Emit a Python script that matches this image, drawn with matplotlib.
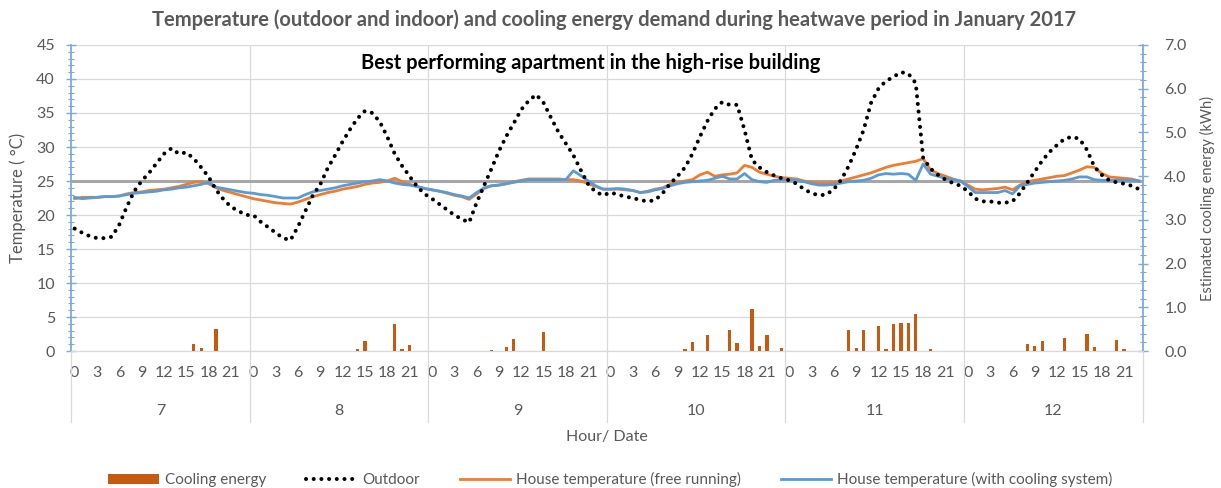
import numpy as np
import matplotlib.pyplot as plt
from matplotlib.ticker import MultipleLocator, FormatStrFormatter

plt.rcParams['font.family'] = ['Lato', 'DejaVu Sans']

# ---- data (hourly, 7-12 January 2017) ----
days = [7, 8, 9, 10, 11, 12]
hour_labels = [0, 3, 6, 9, 12, 15, 18, 21]

outdoor = [
    18.0, 17.4, 16.9, 16.6, 16.6, 16.8, 18.6, 21.2, 23.5, 25.0, 26.2, 27.6,
    29.0, 29.8, 29.0, 29.2, 28.3, 27.0, 25.6, 23.7, 22.3, 21.2, 20.6, 20.0,
    20.0, 19.0, 18.2, 17.4, 16.6, 16.3, 18.3, 20.6, 22.9, 24.5, 26.9, 28.8,
    30.8, 32.6, 34.2, 35.3, 35.0, 33.7, 31.5, 29.0, 27.2, 25.7, 24.2, 23.1,
    22.4, 21.6, 20.8, 20.0, 19.4, 18.9, 21.8, 24.3, 26.8, 29.4, 31.6, 33.5,
    35.5, 36.8, 37.7, 36.5, 34.3, 32.2, 30.5, 28.8, 26.6, 24.5, 23.4, 22.9,
    23.3, 23.0, 22.7, 22.5, 22.2, 22.0, 22.2, 23.2, 24.6, 25.7, 27.0, 29.0,
    31.5, 33.8, 35.6, 36.6, 36.2, 36.2, 32.5, 28.1, 27.0, 26.3, 25.8, 25.4,
    25.1, 24.6, 23.8, 23.2, 22.9, 23.0, 23.8, 25.2, 27.2, 29.7, 32.5, 36.5,
    38.6, 39.7, 40.3, 41.0, 40.8, 39.4, 28.4, 26.8, 25.9, 25.2, 24.7, 24.3,
    23.5, 22.4, 22.0, 22.0, 21.8, 21.8, 22.0, 23.2, 24.8, 26.4, 28.0, 29.3,
    30.3, 31.2, 31.5, 31.2, 29.6, 27.1, 25.9, 25.1, 24.8, 24.6, 24.3, 23.8,
]

free_running = [
    22.4, 22.6, 22.6, 22.6, 22.7, 22.7, 22.8, 23.1, 23.3, 23.4, 23.6, 23.7,
    23.8, 24.0, 24.2, 24.5, 24.8, 24.9, 24.6, 24.0, 23.6, 23.3, 23.0, 22.7,
    22.4, 22.2, 22.0, 21.8, 21.7, 21.6, 21.9, 22.3, 22.7, 23.0, 23.3, 23.5,
    23.8, 24.0, 24.2, 24.5, 24.7, 24.8, 25.0, 25.4, 24.9, 24.5, 24.2, 23.9,
    23.7, 23.5, 23.2, 22.9, 22.7, 22.3, 23.1, 23.9, 24.3, 24.4, 24.6, 24.9,
    25.1, 25.3, 25.3, 25.3, 25.3, 25.3, 25.2, 25.2, 25.0, 24.6, 24.2, 23.8,
    23.8, 23.8, 23.7, 23.6, 23.3, 23.5, 23.8, 24.0, 24.5, 24.8, 25.0, 25.2,
    25.9, 26.3, 25.7, 25.9, 26.0, 26.2, 27.3, 27.0, 26.3, 26.0, 25.7, 25.5,
    25.4, 25.3, 25.0, 24.8, 24.7, 24.7, 24.8, 25.0, 25.3, 25.6, 25.9, 26.2,
    26.6, 27.0, 27.3, 27.5, 27.7, 27.9, 28.3, 26.6, 26.1, 25.7, 25.3, 25.0,
    24.4, 23.8, 23.7, 23.8, 23.9, 24.1, 23.7, 24.4, 24.9, 25.1, 25.3, 25.5,
    25.7, 25.8, 26.2, 26.6, 27.1, 27.0, 26.1, 25.6, 25.5, 25.4, 25.3, 25.0,
]

with_cooling = [
    22.6, 22.4, 22.5, 22.6, 22.7, 22.7, 22.8, 23.0, 23.2, 23.3, 23.4, 23.5,
    23.7, 23.8, 24.0, 24.1, 24.3, 24.5, 24.8, 24.1, 23.9, 23.7, 23.5, 23.3,
    23.2, 23.0, 22.9, 22.7, 22.5, 22.5, 22.5, 23.0, 23.4, 23.6, 23.8, 24.0,
    24.3, 24.5, 24.7, 24.9, 25.0, 25.2, 25.0, 24.7, 24.5, 24.4, 24.2, 23.9,
    23.7, 23.5, 23.3, 23.0, 22.8, 22.5, 23.3, 24.0, 24.3, 24.4, 24.6, 24.8,
    25.0, 25.2, 25.2, 25.2, 25.2, 25.2, 25.2, 26.5, 25.8, 25.0, 24.3, 23.8,
    23.8, 23.9, 23.8, 23.6, 23.3, 23.4, 23.7, 23.9, 24.3, 24.6, 24.8, 24.9,
    25.0, 25.1, 25.4, 25.7, 25.3, 25.3, 26.1, 25.2, 24.9, 24.8, 25.1, 25.2,
    25.2, 25.1, 24.9, 24.6, 24.4, 24.4, 24.5, 24.7, 24.9, 25.0, 25.1, 25.4,
    25.9, 26.1, 26.0, 26.1, 26.0, 25.1, 27.5, 26.0, 25.7, 25.4, 25.2, 25.0,
    24.2, 23.3, 23.3, 23.3, 23.3, 23.6, 23.1, 24.3, 24.5, 24.7, 24.8, 24.9,
    25.0, 25.1, 25.3, 25.6, 25.6, 25.2, 25.1, 25.1, 25.1, 25.1, 25.1, 25.0,
]

# cooling energy (kWh) - only the hours with demand
cool_day = [7, 7, 7, 8, 8, 8, 8, 8, 9, 9, 9, 9,
            10, 10, 10, 10, 10, 10, 10, 10, 10,
            11, 11, 11, 11, 11, 11, 11, 11, 11, 11,
            12, 12, 12, 12, 12, 12, 12, 12]
cool_hour = [16, 17, 19, 14, 15, 19, 20, 21, 8, 10, 11, 15,
             10, 11, 13, 16, 17, 19, 20, 21, 23,
             8, 9, 10, 12, 13, 14, 15, 16, 17, 19,
             8, 9, 10, 13, 16, 17, 20, 21]
cool_kwh = [0.15, 0.06, 0.51, 0.04, 0.23, 0.62, 0.05, 0.14, 0.02, 0.10, 0.27, 0.43,
            0.04, 0.21, 0.36, 0.48, 0.18, 0.95, 0.11, 0.37, 0.08,
            0.48, 0.08, 0.48, 0.57, 0.04, 0.62, 0.65, 0.65, 0.85, 0.04,
            0.17, 0.12, 0.24, 0.30, 0.39, 0.10, 0.25, 0.04]

comfort_limit = 25

# ---- plot ----
n = len(outdoor)
x = np.arange(n)
cool_x = [(d - days[0]) * 24 + h for d, h in zip(cool_day, cool_hour)]

text_col = '#595959'
grid_col = '#D9D9D9'
axis_blue = '#7FA9DC'

fig = plt.figure(figsize=(12.21, 4.88), dpi=100)
ax = fig.add_axes([0.0581, 0.2807, 0.8778, 0.6271])
ax2 = ax.twinx()

ax.axhline(comfort_limit, color='#A6A6A6', lw=2.2, zorder=2)
ax.plot(x, free_running, color='#ED7D31', lw=2.0, zorder=3,
        label='House temperature (free running)')
ax.plot(x, with_cooling, color='#5B9BD5', lw=2.0, zorder=4,
        label='House temperature (with cooling system)')
ax.plot(x, outdoor, color='black', lw=2.9, linestyle=(0, (0.01, 1.9)),
        dash_capstyle='round', zorder=5, label='Outdoor')

ax2.bar(cool_x, cool_kwh, width=0.45, color='#C55A11', zorder=3,
        label='Cooling energy')

ax.set_xlim(-0.5, n - 0.5)
ax.set_ylim(0, 45)
ax2.set_ylim(0, 7)

ax.yaxis.set_major_locator(MultipleLocator(5))
ax.yaxis.set_minor_locator(MultipleLocator(1))
ax2.yaxis.set_major_locator(MultipleLocator(1))
ax2.yaxis.set_minor_locator(MultipleLocator(0.2))
ax2.yaxis.set_major_formatter(FormatStrFormatter('%.1f'))

ax.grid(axis='y', color=grid_col, lw=0.9, zorder=0)
for b in range(1, len(days)):
    ax.axvline(b * 24 - 0.5, color=grid_col, lw=0.9, zorder=0)

for a in (ax, ax2):
    a.spines['top'].set_visible(False)
    a.spines['bottom'].set_color(grid_col)
ax.spines['right'].set_visible(False)
ax2.spines['left'].set_visible(False)
ax.spines['left'].set_color(axis_blue)
ax2.spines['right'].set_color(axis_blue)
ax.spines['left'].set_linewidth(1.3)
ax2.spines['right'].set_linewidth(1.3)

ax.tick_params(axis='y', which='major', direction='inout', length=7, width=1,
               color=axis_blue, labelsize=11.5, labelcolor=text_col, pad=8)
ax.tick_params(axis='y', which='minor', direction='inout', length=4, width=0.8,
               color=axis_blue)
ax2.tick_params(axis='y', which='major', direction='inout', length=7, width=1,
                color=axis_blue, labelsize=11.5, labelcolor=text_col, pad=12)
ax2.tick_params(axis='y', which='minor', direction='inout', length=4, width=0.8,
                color=axis_blue)

# two level category axis: hours then dates
tick_pos = [(d - days[0]) * 24 + h for d in days for h in hour_labels]
tick_lab = [str(h) for d in days for h in hour_labels]
ax.set_xticks(tick_pos)
ax.set_xticklabels(tick_lab)
ax.tick_params(axis='x', length=0, labelsize=11.5, labelcolor=text_col, pad=11)

for i, d in enumerate(days):
    ax.text(i * 24 + 11.5, -0.196, str(d), transform=ax.get_xaxis_transform(),
            ha='center', va='center', fontsize=11.5, color=text_col)
for b in range(len(days) + 1):
    ax.plot([b * 24 - 0.5, b * 24 - 0.5], [0, -0.232], color=grid_col, lw=0.9,
            transform=ax.get_xaxis_transform(), clip_on=False)

ax.text(0.5, -0.281, 'Hour/ Date', transform=ax.transAxes, ha='center',
        va='center', fontsize=11.5, color=text_col)

fig.text(0.0147, 0.594, 'Temperature ( °C)', rotation=90, ha='center',
         va='center', fontsize=12, color=text_col)
fig.text(0.989, 0.593, 'Estimated cooling energy (kWh)', rotation=90,
         ha='center', va='center', fontsize=10.5, color=text_col)

fig.text(0.503, 0.959, 'Temperature (outdoor and indoor) and cooling energy '
         'demand during heatwave period in January 2017', ha='center',
         va='center', fontsize=14.5, fontweight='bold', color=text_col)
ax.text(0.485, 0.941, 'Best performing apartment in the high-rise building',
        transform=ax.transAxes, ha='center', va='center', fontsize=14.5,
        fontweight='bold', color='black')

h1, l1 = ax2.get_legend_handles_labels()
h2, l2 = ax.get_legend_handles_labels()
order = [h1[0], h2[2], h2[0], h2[1]]
labels = [l1[0], l2[2], l2[0], l2[1]]
leg = fig.legend(order, labels, loc='center', bbox_to_anchor=(0.5, 0.017),
                 ncol=4, frameon=False, fontsize=11, handlelength=3.3,
                 handletextpad=0.4, columnspacing=2.6)
for t in leg.get_texts():
    t.set_color(text_col)

fig.savefig('out.png', dpi=100)
